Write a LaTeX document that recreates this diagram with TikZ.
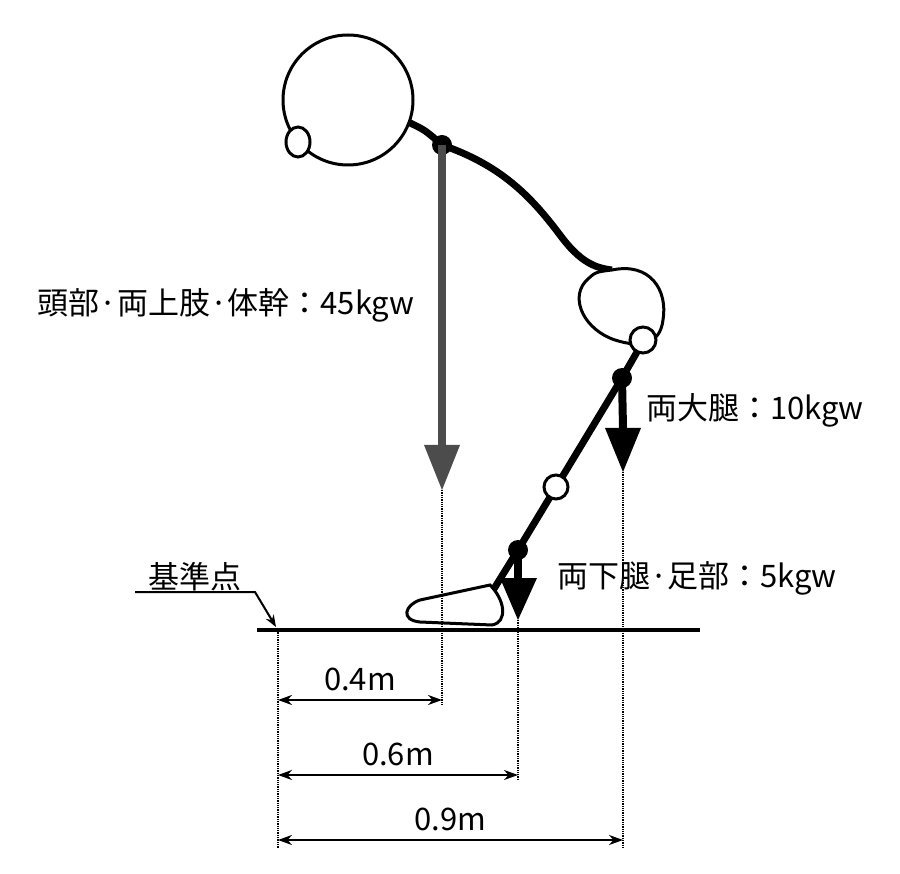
\documentclass[tikz,border=0pt]{standalone}
\usepackage{fontspec}
\setmainfont{Noto Sans CJK JP}
\usetikzlibrary{arrows.meta}
\tikzset{
  body/.style={line width=7pt},
  joint/.style={fill=black},
  dimline/.style={line width=2pt,{Stealth[length=14pt,width=10pt]}-{Stealth[length=14pt,width=10pt]}},
  guide/.style={densely dotted,line width=1.3pt},
  lbl/.style={font=\fontsize{31}{36}\selectfont,inner sep=0pt}
}
\begin{document}
\begin{tikzpicture}[x=1pt,y=-1pt]
    \useasboundingbox (0,0) rectangle (900,874);
    % head and ear
    \draw [line width=3pt,fill=white] (348,100) circle [radius=65];
    \draw [line width=3pt,fill=white] (298,142) ellipse [x radius=12,y radius=15];
    % neck and back
    \coordinate (neck) at (442,145);
    \draw [body] (408,122) .. controls (425,130) .. (neck);
    \draw [body] (neck) .. controls (500,165) and (530,195) .. (560,235) .. controls (580,262) and (595,268) .. (612,270);
    % hip
    \draw [line width=3pt,fill=white] (612,270) .. controls (650,262) and (668,290) .. (663,320) .. controls (660,345) and (640,348) .. (615,340) .. controls (585,330) and (570,300) .. (585,282) .. controls (595,272) .. (612,270) -- cycle;
    % legs
    \coordinate (hip) at (622,378);
    \coordinate (knee) at (518,550);
    \draw [body] (637,352) -- (hip) -- (knee) -- (492,592);
    \draw [line width=3pt,fill=white] (643,340) circle [radius=13];
    \draw [line width=3pt,fill=white] (556,487) circle [radius=12];
    % foot
    \draw [line width=3pt,fill=white] (490,585) .. controls (505,600) and (508,622) .. (492,625) -- (420,622) .. controls (400,620) and (405,605) .. (420,600) -- cycle;
    \fill [joint] (neck) circle [radius=10];
    \fill [joint] (hip) circle [radius=10];
    \fill [joint] (knee) circle [radius=10];
    % force arrows
    \draw [line width=8pt,color=black!70] (neck) -- (442,445);
    \fill [black!70] (424,445) -- (460,445) -- (442,490) -- cycle;
    \draw [line width=8pt] (hip) -- (623,428);
    \fill (605,428) -- (641,428) -- (623,472) -- cycle;
    \draw [line width=8pt] (knee) -- (518,578);
    \fill (500,578) -- (537,578) -- (518,620) -- cycle;
    % ground
    \draw [line width=4.5pt] (257,630) -- (700,630);
    % guides
    \draw [guide] (278,630) -- (278,848);
    \draw [guide] (442,490) -- (442,705);
    \draw [guide] (518,620) -- (518,780);
    \draw [guide] (623,472) -- (623,848);
    % dimensions
    \draw [dimline] (278,700) -- (442,700) node [lbl,midway,above=8pt] {0.4m};
    \draw [dimline] (278,775) -- (518,775) node [lbl,midway,above=8pt] {0.6m};
    \draw [dimline] (278,840) -- (623,840) node [lbl,midway,above=8pt] {0.9m};
    % labels
    \node [lbl] (base) at (195,577) {基準点};
    \draw [line width=2pt,-{Stealth[length=12pt,width=9pt]}] (135,592) -- (255,592) -- (276,627);
    \node [lbl] (upper) at (226,305) {頭部·両上肢·体幹：45kgw};
    \node [lbl] (thigh) at (755,410) {両大腿：10kgw};
    \node [lbl] (shank) at (697,578) {両下腿·足部：5kgw};
\end{tikzpicture}
\end{document}
